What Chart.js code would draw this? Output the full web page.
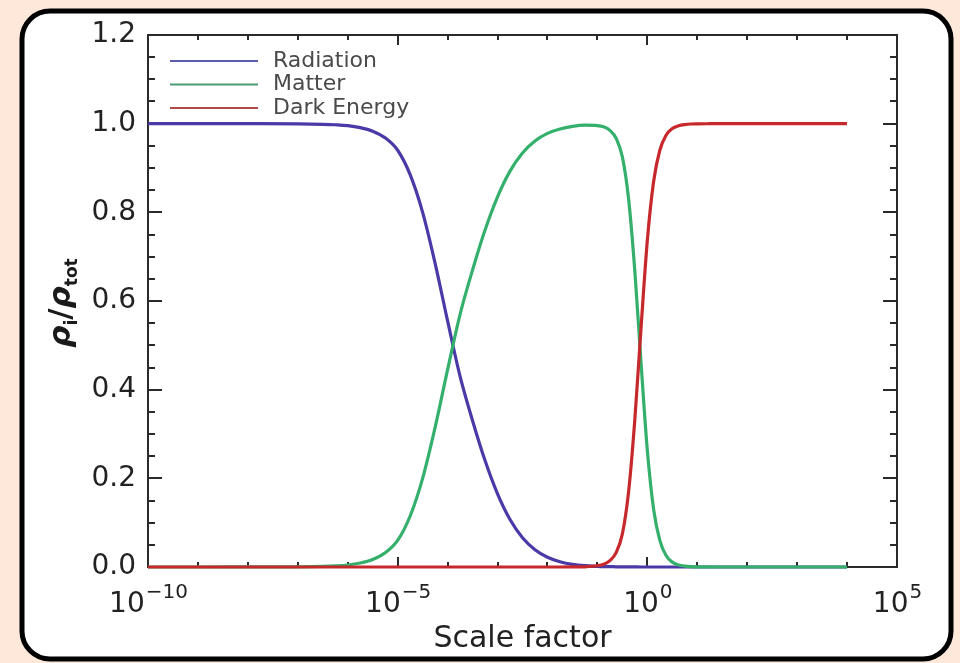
<!DOCTYPE html>
<html>
<head>
<meta charset="utf-8">
<script src="https://cdn.jsdelivr.net/npm/chart.js@4.4.1/dist/chart.umd.min.js"></script>
<style>
html, body { margin: 0; padding: 0; background: #fde8da; }
#wrap { width: 960px; height: 663px; }
</style>
</head>
<body>
<div id="wrap"><canvas id="chart" width="960" height="663"></canvas></div>
<script>
// log10 of the scale factor
const logScaleFactor = [-10, -9, -8, -7, -6.5, -6.25, -6, -5.75, -5.5, -5.25, -5, -4.75, -4.5, -4.25, -4, -3.75, -3.5, -3.25, -3, -2.75, -2.5, -2.25, -2, -1.75, -1.5, -1.25, -1, -0.875, -0.75, -0.625, -0.5, -0.375, -0.25, -0.125, 0, 0.125, 0.25, 0.375, 0.5, 0.625, 0.75, 0.875, 1, 1.25, 1.5, 2, 3, 4];
const radiation  = [1.000, 1.000, 0.9999, 0.9996, 0.9986, 0.9975, 0.9955, 0.991, 0.983, 0.968, 0.940, 0.885, 0.800, 0.685, 0.555, 0.430, 0.330, 0.240, 0.165, 0.107, 0.066, 0.039, 0.022, 0.012, 0.006, 0.003, 0.0015, 0.001, 0.0008, 0.0005, 0.0003, 0.0002, 0.0001, 0, 0, 0, 0, 0, 0, 0, 0, 0, 0, 0, 0, 0, 0, 0];
const matter     = [0.000, 0.000, 0.0001, 0.0004, 0.0014, 0.0025, 0.0045, 0.009, 0.017, 0.032, 0.060, 0.115, 0.200, 0.315, 0.445, 0.570, 0.670, 0.760, 0.835, 0.893, 0.934, 0.961, 0.978, 0.988, 0.9939, 0.9965, 0.9957, 0.9929, 0.985, 0.967, 0.925, 0.830, 0.667, 0.459, 0.263, 0.131, 0.060, 0.026, 0.011, 0.0047, 0.002, 0.0008, 0.0004, 0.0001, 0, 0, 0, 0];
const darkEnergy = [0, 0, 0, 0, 0, 0, 0, 0, 0, 0, 0, 0, 0, 0, 0, 0, 0, 0, 0, 0, 0, 0, 0, 0, 0.0001, 0.0005, 0.0028, 0.0061, 0.0143, 0.0325, 0.0747, 0.170, 0.333, 0.541, 0.737, 0.869, 0.940, 0.974, 0.989, 0.9953, 0.998, 0.9992, 0.9996, 0.9999, 1, 1, 1, 1];

const seriesNames = ['Radiation', 'Matter', 'Dark Energy'];
const seriesColors = ['#4a3aa8', '#34b06c', '#c6282c'];
const legendColors = ['#5c5cb0', '#4a9e70', '#b04a4a'];
const xDecades = [-10, -9, -8, -7, -6, -5, -4, -3, -2, -1, 0, 1, 2, 3, 4, 5];
const xLabelled = [-10, -5, 0, 5];
const yLabelled = [0, 0.2, 0.4, 0.6, 0.8, 1.0, 1.2];

function toPoints(ys) {
    return logScaleFactor.map((t, i) => ({x: Math.pow(10, t), y: ys[i]}));
}

const FONT = "'DejaVu Sans', sans-serif";
const AXIS = '#2a2a2a';

// peach page + white rounded card
const cardPlugin = {
    id: 'card',
    beforeDraw(chart) {
        const ctx = chart.ctx;
        ctx.save();
        ctx.fillStyle = '#fde8da';
        ctx.fillRect(0, 0, chart.width, chart.height);
        ctx.beginPath();
        ctx.roundRect(22, 11, 929, 648, 28);
        ctx.fillStyle = '#fff';
        ctx.fill();
        ctx.lineWidth = 5;
        ctx.strokeStyle = '#000';
        ctx.stroke();
        ctx.restore();
    }
};

// box + inward ticks on all four sides, 10^n labels, y title
const framePlugin = {
    id: 'frame',
    beforeDatasetsDraw(chart) {
        const {ctx, chartArea: a, scales} = chart;
        ctx.save();
        ctx.strokeStyle = AXIS;
        ctx.lineWidth = 2;
        ctx.strokeRect(a.left, a.top, a.right - a.left, a.bottom - a.top);
        ctx.beginPath();
        scales.x.ticks.forEach(t => {
            const px = Math.round(scales.x.getPixelForValue(t.value));
            const major = xLabelled.includes(Math.round(Math.log10(t.value)));
            const len = major ? 10 : 5;
            ctx.moveTo(px, a.bottom); ctx.lineTo(px, a.bottom - len);
            ctx.moveTo(px, a.top); ctx.lineTo(px, a.top + len);
        });
        scales.y.ticks.forEach(t => {
            const py = Math.round(scales.y.getPixelForValue(t.value));
            const major = Math.abs(t.value * 5 - Math.round(t.value * 5)) < 1e-6;
            const len = major ? 14 : 7;
            ctx.moveTo(a.left, py); ctx.lineTo(a.left + len, py);
            ctx.moveTo(a.right, py); ctx.lineTo(a.right - len, py);
        });
        ctx.stroke();

        // x labels with real superscripts
        ctx.fillStyle = '#222';
        ctx.textBaseline = 'alphabetic';
        ctx.textAlign = 'left';
        xLabelled.forEach(e => {
            const px = scales.x.getPixelForValue(Math.pow(10, e));
            const base = '10', expo = String(e).replace('-', '\u2212');
            ctx.font = '28px ' + FONT;
            const wb = ctx.measureText(base).width;
            ctx.font = '20px ' + FONT;
            const we = ctx.measureText(expo).width;
            const x0 = px - (wb + we) / 2;
            ctx.font = '28px ' + FONT;
            ctx.fillText(base, x0, a.bottom + 45);
            ctx.font = '20px ' + FONT;
            ctx.fillText(expo, x0 + wb + 1, a.bottom + 31);
        });

        // y title: rho_i / rho_tot
        ctx.translate(60, (a.top + a.bottom) / 2 + 2);
        ctx.rotate(-Math.PI / 2);
        ctx.fillStyle = '#1a1a1a';
        const big = "italic bold 31px " + FONT;
        const small = "bold 17px " + FONT;
        const parts = [
            {t: '\u03C1', f: big, dy: 0},
            {t: 'i', f: small, dy: 7},
            {t: '/', f: "bold 31px " + FONT, dy: 0},
            {t: '\u03C1', f: big, dy: 0},
            {t: 'tot', f: small, dy: 7}
        ];
        let w = 0;
        parts.forEach(p => { ctx.font = p.f; p.w = ctx.measureText(p.t).width; w += p.w; });
        let x = -w / 2;
        parts.forEach(p => {
            ctx.font = p.f;
            ctx.fillText(p.t, x, 10 + p.dy);
            x += p.w;
        });
        ctx.restore();
    },
    afterDatasetsDraw(chart) {
        const ctx = chart.ctx;
        ctx.save();
        ctx.font = "22px " + FONT;
        ctx.textBaseline = 'middle';
        seriesNames.forEach((name, i) => {
            const y = 61 + i * 23.5;
            ctx.strokeStyle = legendColors[i];
            ctx.lineWidth = 2;
            ctx.beginPath();
            ctx.moveTo(170, y); ctx.lineTo(258, y);
            ctx.stroke();
            ctx.fillStyle = '#4a4a4a';
            ctx.fillText(name, 273, y);
        });
        ctx.restore();
    }
};

const series = [radiation, matter, darkEnergy];
// red drawn on top, then green, then blue
const drawOrder = [2, 1, 0];

new Chart(document.getElementById('chart'), {
    type: 'line',
    data: {
        datasets: series.map((ys, i) => ({
            label: seriesNames[i],
            data: toPoints(ys),
            borderColor: seriesColors[i],
            borderWidth: 3.2,
            pointRadius: 0,
            cubicInterpolationMode: 'monotone',
            clip: false,
            order: drawOrder[i]
        }))
    },
    options: {
        responsive: false,
        animation: false,
        events: [],
        layout: {padding: {left: 0, top: 35, right: 63, bottom: 0}},
        plugins: {legend: {display: false}, tooltip: {enabled: false}},
        scales: {
            x: {
                type: 'logarithmic',
                min: 1e-10,
                max: 1e5,
                afterBuildTicks(scale) {
                    scale.ticks = xDecades.map(e => ({value: Math.pow(10, e)}));
                },
                afterFit(scale) { scale.height = 96; },
                grid: {display: false, drawTicks: false},
                border: {display: true, color: AXIS, width: 2},
                ticks: {display: false, autoSkip: false, maxRotation: 0},
                title: {
                    display: true,
                    text: 'Scale factor',
                    color: '#222',
                    font: {family: FONT, size: 30},
                    padding: {top: 0, bottom: 6}
                }
            },
            y: {
                min: 0,
                max: 1.2,
                afterBuildTicks(scale) {
                    const t = [];
                    for (let i = 0; i <= 24; i++) t.push({value: i * 0.05});
                    scale.ticks = t;
                },
                afterFit(scale) { scale.width = 148; },
                grid: {display: false, drawTicks: false},
                border: {display: true, color: AXIS, width: 2},
                ticks: {
                    autoSkip: false,
                    padding: 12,
                    color: '#222',
                    font: {family: FONT, size: 28},
                    callback(value) {
                        const hit = yLabelled.find(v => Math.abs(v - value) < 1e-6);
                        return hit === undefined ? '' : hit.toFixed(1);
                    }
                }
            }
        }
    },
    plugins: [cardPlugin, framePlugin]
});
</script>
</body>
</html>
